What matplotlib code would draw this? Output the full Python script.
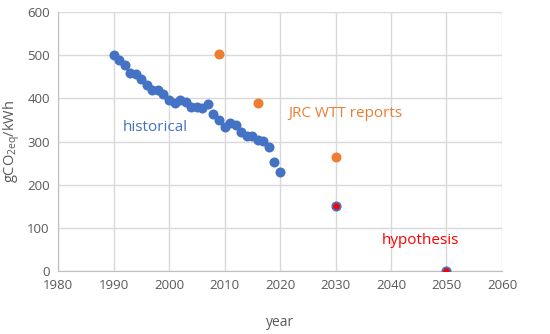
import matplotlib
matplotlib.use("Agg")
import matplotlib.pyplot as plt

hist_years = list(range(1990, 2021))
hist_vals = [501, 490, 478, 459, 457, 445, 431, 420, 420, 409, 396, 390, 396, 392,
             380, 380, 378, 386, 363, 351, 334, 342, 338, 322, 312, 312, 303, 302,
             288, 253, 230]
jrc_years = [2009, 2016, 2030]
jrc_vals = [503, 389, 264]
hyp_years = [2030, 2050]
hyp_vals = [150, 0]

plt.rcParams['font.family'] = ['Open Sans', 'DejaVu Sans']
plt.rcParams['mathtext.fontset'] = 'custom'
plt.rcParams['mathtext.rm'] = 'Open Sans'
plt.rcParams['mathtext.it'] = 'Open Sans'
blue = '#4472C4'
orange = '#ED7D31'
red = '#FF0000'
gray = '#595959'

fig = plt.figure(figsize=(5.5, 3.34), dpi=100)
ax = fig.add_axes([0.1055, 0.1886, 0.8072, 0.7754])

ax.scatter(hist_years, hist_vals, s=52, color=blue, zorder=3, linewidths=0)
ax.scatter(jrc_years, jrc_vals, s=52, color=orange, zorder=3, linewidths=0)
ax.scatter(hyp_years, hyp_vals, s=36, color=red, edgecolors=blue, linewidths=1.3, zorder=4)

ax.set_xlim(1980, 2060)
ax.set_ylim(0, 600)
ax.set_xticks(range(1980, 2061, 10))
ax.set_yticks(range(0, 601, 100))
ax.grid(True, color='#D9D9D9', linewidth=1)
ax.set_axisbelow(True)
for s in ['top', 'right']:
    ax.spines[s].set_visible(False)
for s in ['left', 'bottom']:
    ax.spines[s].set_color('#BFBFBF')
ax.tick_params(length=0, labelsize=9.5, colors=gray, pad=6)

ax.text(1997.5, 333, 'historical', color=blue, fontsize=11, ha='center', va='center')
ax.text(2031.7, 366, 'JRC WTT reports', color=orange, fontsize=11, ha='center', va='center')
ax.text(2045.3, 70, 'hypothesis', color=red, fontsize=11, ha='center', va='center')

ax.set_xlabel('year', color=gray, fontsize=10, labelpad=16)
ax.set_ylabel(r'gCO$_{\mathrm{2eq}}$/kWh', color=gray, fontsize=10.5, labelpad=4)

fig.savefig('out.png', dpi=100)
